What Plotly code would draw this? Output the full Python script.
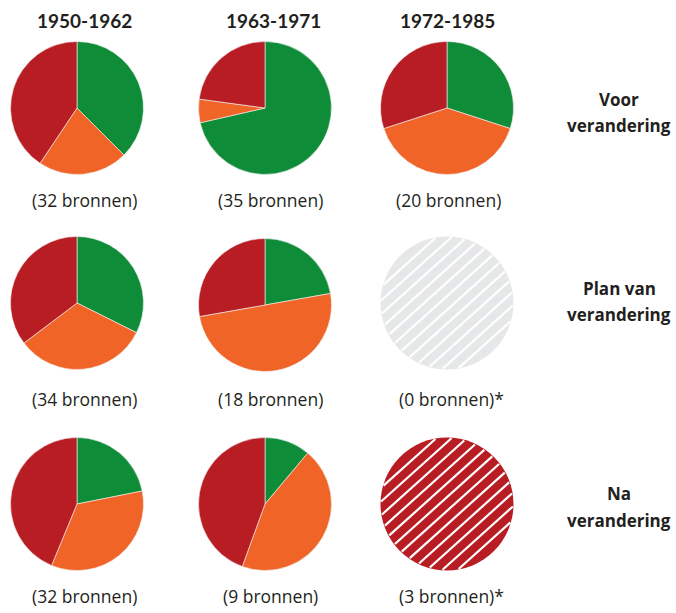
import math
import plotly.graph_objects as go

# Period columns and phase rows
periods = ["1950-1962", "1963-1971", "1972-1985"]
phases = [["Voor", "verandering"], ["Plan van", "verandering"], ["Na", "verandering"]]
categories = ["Positief", "Neutraal", "Negatief"]

# Counts per category (positief, neutraal, negatief) for each phase x period
voor = [[12, 7, 13], [25, 2, 8], [6, 8, 6]]
plan = [[11, 11, 12], [4, 9, 5], None]
na = [[7, 11, 14], [1, 4, 4], None]
values = [voor, plan, na]

# Number of sources per cell
sources = [[32, 35, 20], [34, 18, 0], [32, 9, 3]]
starred = [[False, False, False], [False, False, True], [False, False, True]]

colors = ["#0f8c37", "#f06428", "#b81d24"]
hatch_bg = [None, "#e6e7e8", "#b81d24"]

W, H = 676, 613
col_x = [77, 265, 447]
row_y = [108, 303, 504]
radius = 66.5
header_x = [84, 273, 447]
count_x = [84, 270, 448]
count_y = [200, 399, 596]
label_x = 619
label_y = [(100, 126), (288, 314), (494, 520)]

hatch_spacing = 10.2     # perpendicular distance between hatch lines (px)
hatch_angle = 42         # degrees above horizontal
hatch_width = 2.2


def px(x):
    return x / W


def py(y):
    return 1 - y / H


fig = go.Figure()
shapes = []

for r in range(3):
    for c in range(3):
        cx, cy = col_x[c], row_y[r]
        if c == 1 and r == 1:
            cy += 2
        vals = values[r][c]
        if vals is not None:
            dom = dict(x=[px(cx - radius), px(cx + radius)],
                       y=[py(cy + radius), py(cy - radius)])
            fig.add_trace(go.Pie(
                values=vals, labels=categories, sort=False,
                direction="clockwise", rotation=0,
                marker=dict(colors=colors, line=dict(color="#f4f4f4", width=0.6)),
                textinfo="none", hoverinfo="label+value",
                domain=dom, showlegend=False,
            ))
        else:
            # Hatched disc: filled circle plus white diagonal chords
            shapes.append(dict(
                type="circle", xref="x", yref="y", layer="below",
                x0=cx - radius, x1=cx + radius, y0=cy - radius, y1=cy + radius,
                fillcolor=hatch_bg[r], line=dict(width=0)))
            a = math.radians(hatch_angle)
            ux, uy = math.cos(a), -math.sin(a)
            nx, ny = math.sin(a), math.cos(a)
            xs, ys = [], []
            k = -int(radius // hatch_spacing) - 1
            while k * hatch_spacing < radius:
                d = k * hatch_spacing + hatch_spacing / 2
                if abs(d) < radius - 1:
                    half = math.sqrt(radius ** 2 - d ** 2) - 0.8
                    mx, my = cx + d * nx, cy + d * ny
                    xs += [mx - half * ux, mx + half * ux, None]
                    ys += [my - half * uy, my + half * uy, None]
                k += 1
            fig.add_trace(go.Scatter(
                x=xs, y=ys, mode="lines",
                line=dict(color="white", width=hatch_width),
                hoverinfo="skip", showlegend=False))

annotations = []
for c, p in enumerate(periods):
    annotations.append(dict(
        x=px(header_x[c]), y=py(20), xref="paper", yref="paper",
        text="<b>%s</b>" % p, showarrow=False, xanchor="center", yanchor="middle",
        font=dict(family="Lato", size=19, color="#231f20")))

for r in range(3):
    for c in range(3):
        txt = "(%d bronnen)" % sources[r][c] + ("*" if starred[r][c] else "")
        annotations.append(dict(
            x=px(count_x[c] + (3 if starred[r][c] else 0)), y=py(count_y[r]),
            xref="paper", yref="paper", text=txt, showarrow=False,
            xanchor="center", yanchor="middle",
            font=dict(family="Open Sans", size=17.5, color="#231f20")))
    for line, ly in zip(phases[r], label_y[r]):
        annotations.append(dict(
            x=px(label_x), y=py(ly), xref="paper", yref="paper",
            text="<b>%s</b>" % line, showarrow=False,
            xanchor="center", yanchor="middle",
            font=dict(family="Open Sans", size=17, color="#231f20")))

fig.update_layout(
    width=W, height=H,
    margin=dict(l=0, r=0, t=0, b=0),
    paper_bgcolor="white", plot_bgcolor="rgba(0,0,0,0)",
    xaxis=dict(range=[0, W], domain=[0, 1], visible=False, fixedrange=True),
    yaxis=dict(range=[H, 0], domain=[0, 1], visible=False, fixedrange=True),
    shapes=shapes,
    annotations=annotations,
)

fig.write_html("out.html")
